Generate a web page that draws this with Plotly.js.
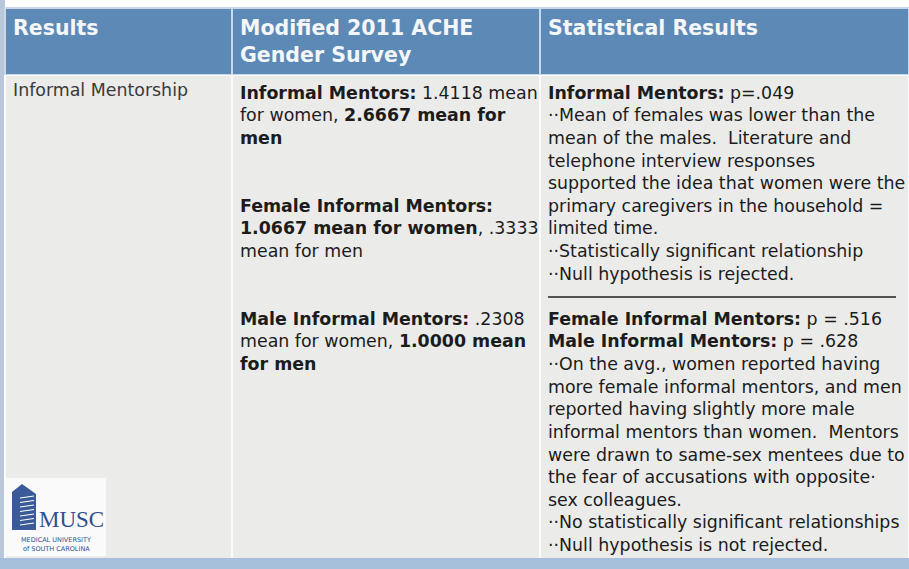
<!DOCTYPE html>
<html>
<head>
<meta charset="utf-8">
<script src="https://cdn.plot.ly/plotly-3.0.1.min.js"></script>
<style>html,body{margin:0;padding:0;background:#fff;}#chart{width:909px;height:569px;}</style>
</head>
<body>
<div id="chart"></div>
<script>
// ---- data ----
const headers = ["Results", "Modified 2011 ACHE<br>Gender Survey", "Statistical Results"];
const topics = ["Informal Mentorship"];
const surveyLines = [
  "<b>Informal Mentors:</b> 1.4118 mean",
  "for women, <b>2.6667 mean for</b>",
  "<b>men</b>",
  "",
  "",
  "<b>Female Informal Mentors:</b>",
  "<b>1.0667 mean for women</b>, .3333",
  "mean for men",
  "",
  "",
  "<b>Male Informal Mentors:</b> .2308",
  "mean for women, <b>1.0000 mean</b>",
  "<b>for men</b>"
];
const statLines = [
  "<b>Informal Mentors:</b> p=.049",
  "··Mean of females was lower than the",
  "mean of the males.  Literature and",
  "telephone interview responses",
  "supported the idea that women were the",
  "primary caregivers in the household =",
  "limited time.",
  "··Statistically significant relationship",
  "··Null hypothesis is rejected.",
  "",
  "<b>Female Informal Mentors:</b> p = .516",
  "<b>Male Informal Mentors:</b> p = .628",
  "··On the avg., women reported having",
  "more female informal mentors, and men",
  "reported having slightly more male",
  "informal mentors than women.  Mentors",
  "were drawn to same-sex mentees due to",
  "the fear of accusations with opposite·",
  "sex colleagues.",
  "··No statistically significant relationships",
  "··Null hypothesis is not rejected."
];
const columnWidths = [227, 308, 369];

// ---- layout helpers ----
const W = 909, H = 569;
const px = x => x / W;
const py = y => 1 - y / H;

const trace = {
  type: "table",
  domain: {x: [px(5), 1], y: [py(558), py(8)]},
  columnwidth: columnWidths,
  header: {
    values: headers.map(h => "<b>" + h + "</b>"),
    align: "left",
    height: 64,
    fill: {color: "#5d89b6"},
    line: {color: "#c9d8e8", width: 1.5},
    font: {family: "DejaVu Sans", size: 20.5, color: "#f4f6f8"}
  },
  cells: {
    values: [topics, [surveyLines.join("<br>")], [statLines.join("<br>")]],
    align: "left",
    height: 483,
    fill: {color: "#ebebea"},
    line: {color: "#fbfbfb", width: 2},
    font: {family: "DejaVu Sans", size: 17.4, color: ["#3a3a3a", "#1c1c1c", "#1c1c1c"]}
  }
};

const shapes = [
  // left slide edge
  {type: "rect", xref: "paper", yref: "paper", x0: 0, x1: px(5), y0: 0, y1: 1,
   fillcolor: "#b7c8da", line: {width: 0}, layer: "below"},
  // bottom slide band
  {type: "rect", xref: "paper", yref: "paper", x0: 0, x1: 1, y0: 0, y1: py(558),
   fillcolor: "#a6c0dc", line: {width: 0}},
  // rule between statistical paragraphs
  {type: "line", xref: "paper", yref: "paper", x0: px(548), x1: px(896), y0: py(297), y1: py(297),
   line: {color: "#202020", width: 1.6}},
  // logo backdrop
  {type: "rect", xref: "paper", yref: "paper", x0: px(6), x1: px(106), y0: py(556), y1: py(478),
   fillcolor: "rgba(255,255,255,0.75)", line: {width: 0}},
  // logo building
  {type: "path", xref: "paper", yref: "paper",
   path: `M ${px(12)},${py(530)} L ${px(12)},${py(492)} L ${px(22)},${py(484)} L ${px(36)},${py(494)} L ${px(36)},${py(530)} Z`,
   fillcolor: "#3a5a98", line: {width: 0}}
];
for (let i = 0; i < 7; i++) {
  const yy = 497 + i * 4.5;
  shapes.push({type: "line", xref: "paper", yref: "paper", x0: px(20), x1: px(34), y0: py(yy + 1), y1: py(yy - 1),
    line: {color: "#ffffff", width: 1.2}});
}

const annotations = [
  {text: "MUSC", xref: "paper", yref: "paper", x: px(37), y: py(519), xanchor: "left", yanchor: "middle",
   showarrow: false, font: {family: "Liberation Serif", size: 23, color: "#2f4f8f"}},
  {text: "MEDICAL UNIVERSITY", xref: "paper", yref: "paper", x: px(56), y: py(540), xanchor: "center", yanchor: "middle",
   showarrow: false, font: {family: "DejaVu Sans", size: 6.5, color: "#2f4f8f"}},
  {text: "of SOUTH CAROLINA", xref: "paper", yref: "paper", x: px(56), y: py(549), xanchor: "center", yanchor: "middle",
   showarrow: false, font: {family: "DejaVu Sans", size: 6.5, color: "#2f4f8f"}}
];

const layout = {
  width: W, height: H,
  margin: {l: 0, r: 0, t: 0, b: 0, pad: 0},
  paper_bgcolor: "#ffffff",
  shapes: shapes,
  annotations: annotations,
  showlegend: false
};

Plotly.newPlot("chart", [trace], layout, {displayModeBar: false, staticPlot: true});
</script>
</body>
</html>
